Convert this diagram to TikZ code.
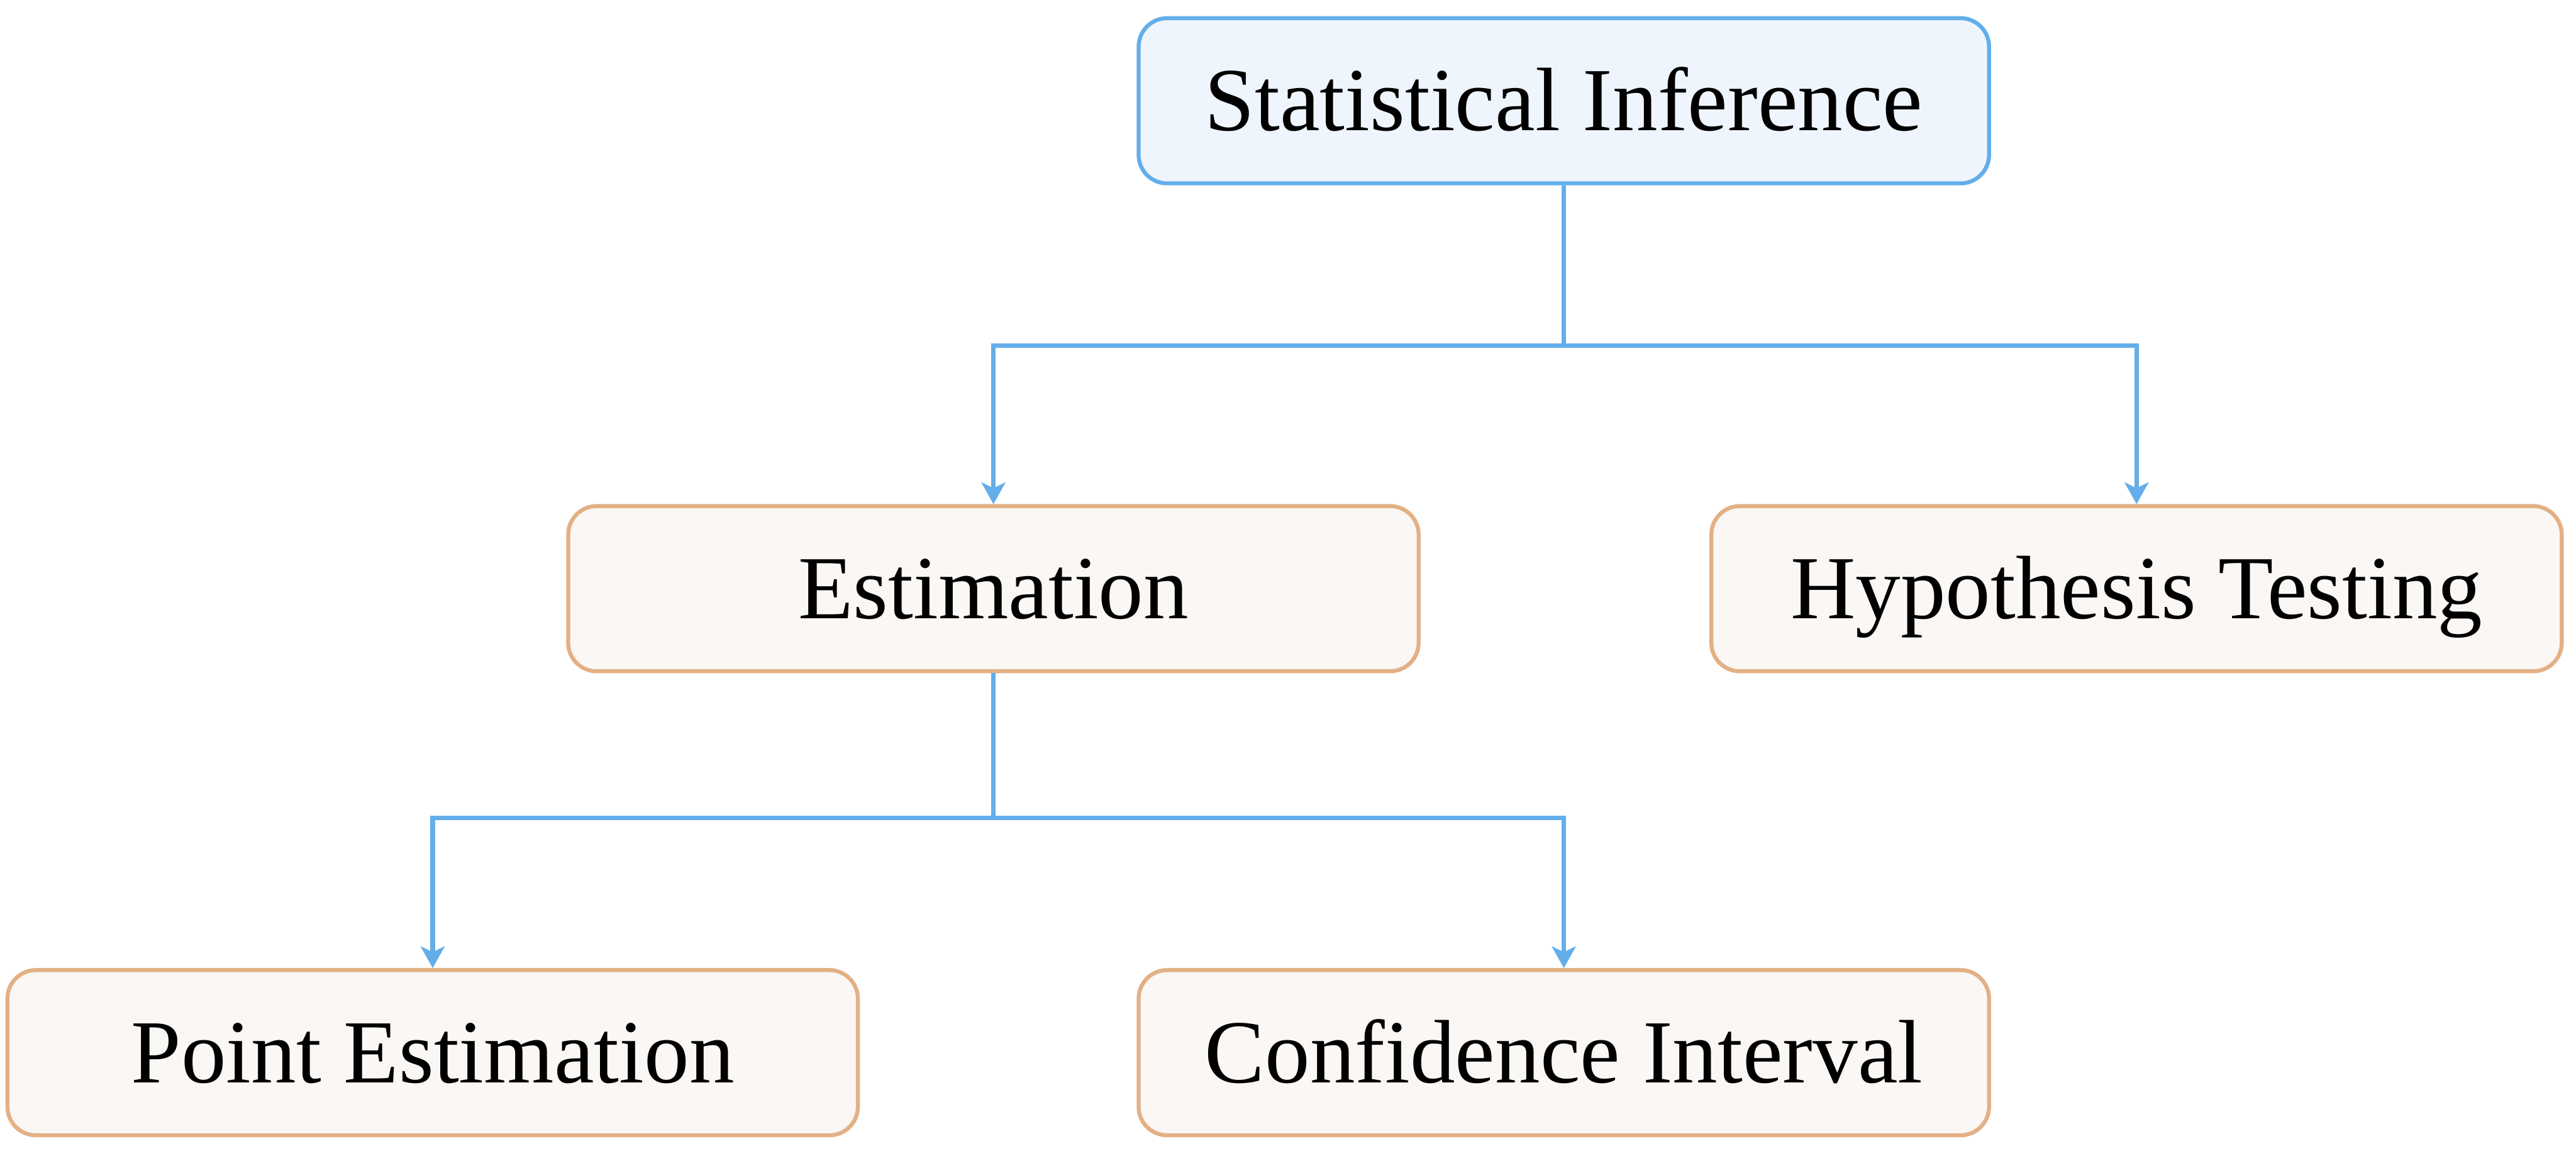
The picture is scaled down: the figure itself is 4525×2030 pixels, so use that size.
\documentclass[tikz,border=0pt]{standalone}
\usepackage{fontspec}
\setmainfont{Liberation Serif}
\usetikzlibrary{arrows.meta}
\definecolor{blueline}{RGB}{99,174,234}
\definecolor{bluefill}{RGB}{238,245,252}
\definecolor{orangeline}{RGB}{227,176,133}
\definecolor{orangefill}{RGB}{250,247,244}
\tikzset{
  box/.style={rectangle, rounded corners=0.5cm, line width=0.07cm,
    minimum width=14.93cm, minimum height=2.9cm, inner sep=0pt,
    font=\fontsize{45}{54}\selectfont, text height=29.7pt, text depth=0pt},
  rootbox/.style={box, draw=blueline, fill=bluefill},
  childbox/.style={box, draw=orangeline, fill=orangefill},
  conn/.style={draw=blueline, line width=0.08cm,
    -{Stealth[length=0.38cm, width=0.42cm, inset=0.1cm]}}
}
\begin{document}
\begin{tikzpicture}[x=0.01cm, y=-0.01cm]
\useasboundingbox (0,0) rectangle (4525,2030);
\node[rootbox] (root) at (2747,177) {Statistical Inference};
\node[childbox] (est) at (1745,1034) {Estimation};
\node[childbox] (hyp) at (3753,1034) {Hypothesis Testing};
\node[childbox] (pt) at (760,1849) {Point Estimation};
\node[childbox] (ci) at (2747,1849) {Confidence Interval};
\coordinate (j1) at (2747,607);
\coordinate (j2) at (1745,1437);
\draw[conn] (root.south) -- (j1) -| (est.north);
\draw[conn] (j1) -| (hyp.north);
\draw[conn] (est.south) -- (j2) -| (pt.north);
\draw[conn] (j2) -| (ci.north);
\end{tikzpicture}
\end{document}
